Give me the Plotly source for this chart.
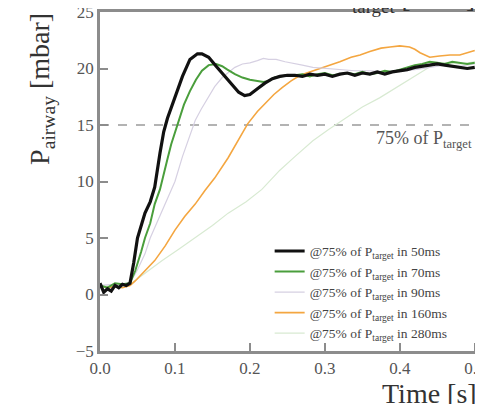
import plotly.graph_objects as go

# ---- data ----
t_50 = [0, 0.005, 0.01, 0.015, 0.02, 0.025, 0.03, 0.035, 0.04, 0.045, 0.05, 0.055, 0.06, 0.067,
        0.073, 0.08, 0.085, 0.09, 0.1, 0.11, 0.12, 0.13, 0.136, 0.145, 0.155, 0.165, 0.175, 0.185,
        0.193, 0.2, 0.21, 0.22, 0.23, 0.24, 0.25, 0.26, 0.27, 0.28, 0.29, 0.30, 0.31, 0.32, 0.33,
        0.34, 0.35, 0.36, 0.37, 0.38, 0.39, 0.40, 0.41, 0.42, 0.43, 0.44, 0.45, 0.46, 0.47, 0.48,
        0.49, 0.50]
p_50 = [1.0, 0.2, 0.5, 0.3, 0.8, 0.6, 0.9, 0.8, 1.0, 2.8, 5.0, 6.2, 7.2, 8.2,
        9.5, 12.5, 14.4, 15.6, 17.4, 19.3, 20.8, 21.3, 21.3, 21.0, 20.2, 19.4, 18.6, 17.9,
        17.6, 17.7, 18.2, 18.7, 19.1, 19.3, 19.4, 19.4, 19.3, 19.5, 19.4, 19.5, 19.3, 19.5, 19.6,
        19.4, 19.6, 19.5, 19.7, 19.5, 19.7, 19.8, 19.9, 20.1, 20.2, 20.3, 20.4, 20.3, 20.2, 20.1,
        20.0, 20.1]

t_70 = [0, 0.01, 0.02, 0.03, 0.04, 0.047, 0.055, 0.06, 0.067, 0.073, 0.08, 0.085, 0.09, 0.095,
        0.104, 0.112, 0.12, 0.128, 0.136, 0.145, 0.155, 0.163, 0.17, 0.18, 0.19, 0.2, 0.21, 0.218,
        0.225, 0.233, 0.24, 0.25, 0.26, 0.27, 0.28, 0.29, 0.30, 0.31, 0.32, 0.33, 0.34, 0.35, 0.36,
        0.37, 0.38, 0.39, 0.40, 0.41, 0.42, 0.43, 0.44, 0.45, 0.46, 0.47, 0.48, 0.49, 0.50]
p_70 = [0.8, 0.6, 1.0, 0.9, 1.0, 2.1, 3.8, 5.0, 6.3, 8.0, 9.3, 10.8, 12.0, 13.3,
        15.1, 16.8, 18.0, 19.0, 19.8, 20.3, 20.4, 20.2, 19.9, 19.5, 19.2, 19.0, 18.9, 18.8,
        18.9, 19.2, 19.3, 19.4, 19.4, 19.5, 19.3, 19.5, 19.6, 19.4, 19.5, 19.6, 19.5, 19.7, 19.5,
        19.6, 19.8, 19.7, 19.9, 20.1, 20.3, 20.4, 20.6, 20.5, 20.4, 20.6, 20.5, 20.4, 20.5]

t_90 = [0, 0.02, 0.04, 0.05, 0.06, 0.067, 0.075, 0.083, 0.09, 0.1, 0.11, 0.12, 0.127, 0.135,
        0.144, 0.153, 0.163, 0.172, 0.18, 0.19, 0.2, 0.21, 0.218, 0.225, 0.235, 0.247, 0.26,
        0.27, 0.284, 0.3, 0.32, 0.34, 0.36, 0.38, 0.4, 0.42, 0.44, 0.46, 0.48, 0.5]
p_90 = [0.8, 0.9, 1.0, 2.2, 3.6, 5.0, 6.2, 7.4, 8.5, 10.0, 12.2, 14.2, 15.4, 16.4,
        17.4, 18.4, 19.2, 19.7, 20.1, 20.4, 20.5, 20.7, 20.9, 20.8, 20.8, 20.6, 20.4,
        20.3, 20.1, 20.0, 19.9, 19.8, 19.8, 19.7, 19.8, 19.9, 20.1, 20.3, 20.2, 20.4]

t_160 = [0, 0.01, 0.02, 0.03, 0.04, 0.047, 0.06, 0.073, 0.087, 0.1, 0.113, 0.127, 0.14, 0.153,
         0.171, 0.185, 0.197, 0.21, 0.22, 0.232, 0.243, 0.255, 0.267, 0.28, 0.295, 0.307, 0.32,
         0.335, 0.347, 0.36, 0.375, 0.387, 0.4, 0.413, 0.42, 0.427, 0.44, 0.453, 0.467, 0.48,
         0.49, 0.5]
p_160 = [0.8, 0.6, 0.7, 0.6, 0.8, 1.2, 2.1, 3.0, 4.3, 5.7, 6.9, 8.0, 9.2, 10.3,
         12.1, 13.7, 15.1, 16.2, 16.9, 17.7, 18.3, 18.9, 19.4, 19.7, 20.0, 20.3, 20.6,
         21.0, 21.2, 21.5, 21.8, 21.9, 22.0, 21.9, 21.7, 21.4, 21.0, 21.1, 21.2, 21.2,
         21.4, 21.6]

t_280 = [0, 0.02, 0.04, 0.06, 0.083, 0.105, 0.127, 0.15, 0.171, 0.195, 0.216, 0.24, 0.26,
         0.284, 0.305, 0.329, 0.35, 0.373, 0.395, 0.418, 0.444, 0.46, 0.48, 0.5]
p_280 = [0.8, 0.7, 0.9, 1.9, 3.0, 4.0, 5.0, 6.1, 7.2, 8.2, 9.3, 11.0, 12.2,
         13.6, 14.6, 15.7, 16.6, 17.4, 18.3, 19.2, 20.3, 20.5, 20.4, 20.6]

series_names = ["50ms", "70ms", "90ms", "160ms", "280ms"]
threshold = 15
x_ticks = [0.0, 0.1, 0.2, 0.3, 0.4, 0.5]
x_tick_labels = ["0.0", "0.1", "0.2", "0.3", "0.4", "0.5"]
y_ticks = [-5, 0, 5, 10, 15, 20, 25]
y_tick_labels = ["\u22125", "0", "5", "10", "15", "20", "25"]

series = [
    (t_50, p_50, "#111111", 3.2),
    (t_70, p_70, "#4a9e3c", 2.0),
    (t_90, p_90, "#d6d0e2", 1.2),
    (t_160, p_160, "#f4a640", 1.6),
    (t_280, p_280, "#d8ead2", 1.2),
]

FONT = "Liberation Serif, Times New Roman, serif"

fig = go.Figure()
# draw back-to-front; legend reversed so black is first
for (t, p, col, w), name in reversed(list(zip(series, series_names))):
    fig.add_trace(go.Scatter(
        x=t, y=p, mode="lines", line=dict(color=col, width=w),
        name="@75% of P<sub>target</sub> in " + name))

fig.add_hline(y=threshold, line=dict(color="#9a9a9a", width=1.5, dash="dash"), layer="below")

annots = [
    dict(x=0.499, y=threshold, xref="x", yref="y", xanchor="right", yanchor="top",
         yshift=-1, text="75% of P<sub>target</sub>", showarrow=False,
         font=dict(family=FONT, size=18, color="#555555")),
    dict(x=-0.154, y=0.773, xref="paper", yref="paper", xanchor="center", yanchor="middle",
         textangle=-90, text="P<sub>airway</sub> [mbar]", showarrow=False,
         font=dict(family=FONT, size=28, color="#333333")),
    dict(x=1.0, y=-0.124, xref="paper", yref="paper", xanchor="right", yanchor="middle",
         xshift=2, text="Time [s]", showarrow=False,
         font=dict(family=FONT, size=28, color="#333333")),
    dict(x=1.0, y=1.0, xref="paper", yref="paper", xanchor="right", yanchor="bottom",
         yshift=-7, text="P<sub>target</sub> [mbar]", showarrow=False,
         font=dict(family=FONT, size=27, color="#333333")),
]

fig.update_layout(
    template="none",
    width=483, height=404,
    margin=dict(l=92, r=14, t=4, b=61, autoexpand=False),
    paper_bgcolor="white", plot_bgcolor="white",
    font=dict(family=FONT, color="#444444"),
    showlegend=True,
    legend=dict(x=0.45, y=0.34, xanchor="left", yanchor="top",
                traceorder="reversed", bgcolor="rgba(0,0,0,0)",
                font=dict(family=FONT, size=13.5, color="#444444"),
                itemwidth=30),
    annotations=annots,
)
fig.update_xaxes(range=[0, 0.503], tickvals=x_ticks, ticktext=x_tick_labels,
                 automargin=False, ticklabeloverflow="allow",
                 showgrid=False, zeroline=False, showline=True, mirror=True,
                 linecolor="#8c8c8c", linewidth=2.5, ticks="inside", ticklen=8,
                 tickwidth=2, tickcolor="#8c8c8c",
                 tickfont=dict(family=FONT, size=17, color="#555555"))
fig.update_yaxes(range=[-5, 25], tickvals=y_ticks, ticktext=y_tick_labels,
                 automargin=False, ticklabeloverflow="allow",
                 showgrid=False, zeroline=False, showline=True, mirror=True,
                 linecolor="#8c8c8c", linewidth=2.5, ticks="inside", ticklen=8,
                 tickwidth=2, tickcolor="#8c8c8c",
                 tickfont=dict(family=FONT, size=17, color="#555555"))

fig.write_html("out.html")
